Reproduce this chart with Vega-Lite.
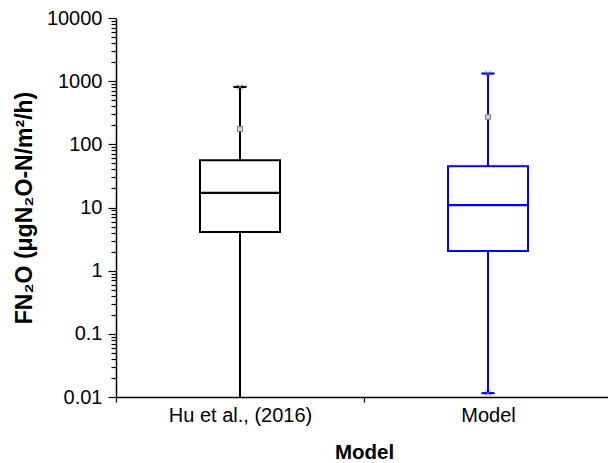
{
  "$schema": "https://vega.github.io/schema/vega-lite/v6.json",
  "autosize": "none",
  "width": 492,
  "height": 379,
  "padding": {"left": 116, "top": 18, "right": 0, "bottom": 66},
  "background": "white",
  "config": {
    "view": {"stroke": null},
    "font": "Liberation Sans",
    "tick": {"opacity": 1},
    "axis": {"grid": false, "domainColor": "#000", "domainWidth": 1.5, "tickColor": "#000", "tickWidth": 1.2, "labelColor": "#000", "titleColor": "#000", "labelFont": "Liberation Sans", "titleFont": "Liberation Sans", "labelFontSize": 20, "titleFontSize": 20.5, "titleFontWeight": "bold"}
  },
  "datasets": {
    "stats": [
      {"group": "Hu et al., (2016)", "lower": 0.01, "q1": 4.1, "median": 17, "q3": 56, "upper": 810, "mean": 174},
      {"group": "Model", "lower": 0.0115, "q1": 2.04, "median": 10.9, "q3": 45, "upper": 1320, "mean": 272}
    ],
    "caps": [
      {"group": "Hu et al., (2016)", "value": 810},
      {"group": "Model", "value": 1320},
      {"group": "Model", "value": 0.0115}
    ]
  },
  "encoding": {
    "x": {"field": "group", "type": "nominal", "sort": null,
      "scale": {"type": "band", "domain": ["Hu et al., (2016)", "Model"], "range": [0, 496], "paddingInner": 0, "paddingOuter": 0},
      "axis": {"title": "Model", "labelAngle": 0, "tickBand": "extent", "tickSize": 5, "labelPadding": 3, "titlePadding": 17, "labelFlush": false}},
    "color": {"field": "group", "type": "nominal", "scale": {"domain": ["Hu et al., (2016)", "Model"], "range": ["#000000", "#0000FF"]}, "legend": null}
  },
  "layer": [
    {
      "data": {"name": "stats"},
      "mark": {"type": "rule", "strokeWidth": 2},
      "encoding": {
        "y": {"field": "lower", "type": "quantitative",
          "scale": {"type": "log", "domain": [0.01, 10000], "nice": false},
          "axis": {
            "title": "FN₂O (μgN₂O-N/m²/h)",
            "titleFontSize": 23,
            "values": [0.01,0.02,0.03,0.04,0.05,0.06,0.07,0.08,0.09,0.1,0.2,0.3,0.4,0.5,0.6,0.7,0.8,0.9,1,2,3,4,5,6,7,8,9,10,20,30,40,50,60,70,80,90,100,200,300,400,500,600,700,800,900,1000,2000,3000,4000,5000,6000,7000,8000,9000,10000],
            "tickSize": {"condition": {"test": "abs(log(datum.value)/LN10 - round(log(datum.value)/LN10)) < 0.001", "value": 8}, "value": 5},
            "labelExpr": "abs(log(datum.value)/LN10 - round(log(datum.value)/LN10)) < 0.001 ? format(datum.value, '~g') : ''",
            "labelOverlap": false,
            "labelPadding": 6,
            "titlePadding": 10
          }},
        "y2": {"field": "upper"}
      }
    },
    {
      "data": {"name": "stats"},
      "mark": {"type": "bar", "size": 80, "fill": "white", "strokeWidth": 2},
      "encoding": {
        "y": {"field": "q1", "type": "quantitative"},
        "y2": {"field": "q3"},
        "stroke": {"field": "group", "type": "nominal", "scale": {"domain": ["Hu et al., (2016)", "Model"], "range": ["#000000", "#0000FF"]}, "legend": null},
        "color": {"value": "white"}
      }
    },
    {
      "data": {"name": "stats"},
      "mark": {"type": "tick", "size": 80, "thickness": 2.2, "opacity": 1},
      "encoding": {"y": {"field": "median", "type": "quantitative"}}
    },
    {
      "data": {"name": "caps"},
      "mark": {"type": "tick", "size": 13, "thickness": 2.2, "opacity": 1},
      "encoding": {"y": {"field": "value", "type": "quantitative"}}
    },
    {
      "data": {"name": "caps"},
      "mark": {"type": "point", "shape": "M-1,-1L1,1M-1,1L1,-1", "size": 30, "stroke": "#777", "strokeWidth": 1, "filled": false, "opacity": 0.8},
      "encoding": {"y": {"field": "value", "type": "quantitative"}, "color": {"value": "#777"}}
    },
    {
      "data": {"name": "stats"},
      "mark": {"type": "point", "shape": "square", "size": 25, "filled": true, "fill": "#cfcfcf", "stroke": "#808080", "strokeWidth": 1, "opacity": 1},
      "encoding": {"y": {"field": "mean", "type": "quantitative"}, "color": {"value": "#cfcfcf"}}
    }
  ]
}
